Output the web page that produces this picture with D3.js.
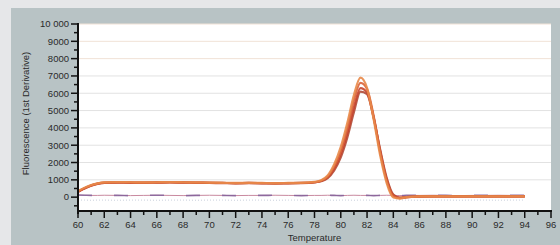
<!DOCTYPE html>
<html><head><meta charset="utf-8">
<script src="https://cdn.jsdelivr.net/npm/d3@7"></script>
<style>html,body{margin:0;padding:0;background:#e6e7e9;}svg{display:block;}</style>
</head><body>
<script>
const temps = [60,60.5,61,61.5,62,63,64,65,66,67,68,69,70,71,72,73,74,75,76,77,78,78.5,79,79.5,80,80.5,81,81.5,82,82.5,83,83.5,84,84.5,85,86,87,88,89,90,91,92,93,94];
const sampleA = [350,550,700,800,850,870,860,850,860,870,860,850,840,830,820,830,820,810,820,830,880,980,1250,1900,2900,4300,5900,6900,6300,4500,2400,800,-20,-80,0,40,50,50,40,50,50,40,50,50];
const sampleB = [330,520,680,790,840,860,850,840,850,860,850,840,830,820,810,820,810,800,810,820,860,950,1180,1750,2650,4000,5600,6600,6250,4700,2600,950,60,-60,-10,40,40,50,40,40,50,40,40,50];
const sampleC = [300,500,660,770,820,840,830,830,840,850,840,830,820,810,800,810,800,790,800,810,850,930,1150,1650,2500,3700,5200,6300,6050,4600,2650,1000,100,-40,0,30,40,40,40,40,40,40,40,40];
const sampleD = [320,510,670,780,830,850,840,840,850,860,850,840,830,820,810,820,810,800,810,820,860,920,1100,1550,2300,3450,4900,6100,5950,4600,2750,1100,150,-30,10,40,40,40,50,40,40,40,50,40];
const ntc = [120,110,100,100,110,100,90,100,110,100,90,100,110,100,90,100,100,110,100,90,100,100,110,100,90,100,110,100,100,90,100,110,100,90,100,100,110,100,90,100,100,110,100,100];
const noise = [-170,-170,-180,-170,-170,-180,-170,-170,-180,-170,-170,-180,-170,-170,-180,-170,-170,-180,-170,-170,-180,-170,-170,-180,-170,-170,-180,-170,-170,-180,-170,-170,-180,-170,-170,-180,-170,-170,-180,-170,-170,-180,-170,-170];
const yTicks = [0,1000,2000,3000,4000,5000,6000,7000,8000,9000,10000];
const yTickLabels = ["0","1000","2000","3000","4000","5000","6000","7000","8000","9000","10 000"];
const xTicks = [60,62,64,66,68,70,72,74,76,78,80,82,84,86,88,90,92,94,96];
const seriesColors = ["#b04a36","#c8442c","#d9633a","#e88a4a"];
const series = [sampleD, sampleC, sampleB, sampleA];

const W=560,H=245;
const svg=d3.select("body").append("svg").attr("width",W).attr("height",H);
const L=78,R=551,T=24,B=211;
svg.append("rect").attr("x",11).attr("y",8).attr("width",W-11).attr("height",H-8).attr("fill","#b8c3c5");
svg.append("rect").attr("x",L).attr("y",T).attr("width",R-L).attr("height",B-T).attr("fill","#ffffff");

const x=d3.scaleLinear().domain([60,96]).range([L,R]);
const y=d3.scaleLinear().domain([-800,10000]).range([B,T]);

svg.append("g").selectAll("line").data(yTicks.slice(1)).join("line")
  .attr("x1",L).attr("x2",R).attr("y1",d=>y(d)).attr("y2",d=>y(d))
  .attr("stroke",d=> d>=8000?"#f1e2d6":"#e2e2e2").attr("stroke-width",1);

const line=d3.line().x((d,i)=>x(temps[i])).y(d=>y(d)).curve(d3.curveMonotoneX);

svg.append("path").attr("d",line(noise)).attr("fill","none").attr("stroke","#c9d0dc").attr("stroke-width",1).attr("stroke-dasharray","1,2");
svg.append("path").attr("d",line(ntc)).attr("fill","none").attr("stroke","#c98aa0").attr("stroke-width",1);
svg.append("path").attr("d",line(ntc)).attr("fill","none").attr("stroke","#7e5c98").attr("stroke-width",1.6).attr("stroke-dasharray","14,22").attr("opacity",0.8);

series.forEach((s,i)=>{
  svg.append("path").attr("d",line(s)).attr("fill","none").attr("stroke",seriesColors[i]).attr("stroke-width",2.2).attr("stroke-linejoin","round").attr("opacity",0.9);
});

const font="Liberation Sans, Arial, sans-serif";
const yAxis=svg.append("g").attr("transform",`translate(${L},0)`);
yAxis.append("line").attr("x1",0).attr("x2",0).attr("y1",T-1).attr("y2",B+3).attr("stroke","#111").attr("stroke-width",2);
const yMinor=d3.range(-500,10001,500).filter(v=>v%1000!==0);
yAxis.selectAll(".ymi").data(yMinor).join("line").attr("x1",-4).attr("x2",0).attr("y1",d=>y(d)).attr("y2",d=>y(d)).attr("stroke","#111").attr("stroke-width",1.5);
yAxis.selectAll(".yma").data(yTicks).join("line").attr("x1",-7).attr("x2",0).attr("y1",d=>y(d)).attr("y2",d=>y(d)).attr("stroke","#111").attr("stroke-width",1.5);
yAxis.selectAll("text").data(yTicks).join("text").attr("x",-9).attr("y",d=>y(d)).attr("dy","0.35em")
  .attr("text-anchor","end").attr("font-family",font).attr("font-size",9.5).attr("fill","#2a2a2a")
  .text((d,i)=>yTickLabels[i]);

const xAxis=svg.append("g").attr("transform",`translate(0,${B})`);
xAxis.append("line").attr("x1",L-1).attr("x2",R+1).attr("y1",0).attr("y2",0).attr("stroke","#111").attr("stroke-width",2);
const xMinor=d3.range(61,96,2);
xAxis.selectAll(".xmi").data(xMinor).join("line").attr("x1",d=>x(d)).attr("x2",d=>x(d)).attr("y1",0).attr("y2",4).attr("stroke","#111").attr("stroke-width",1.5);
xAxis.selectAll(".xma").data(xTicks).join("line").attr("x1",d=>x(d)).attr("x2",d=>x(d)).attr("y1",0).attr("y2",7).attr("stroke","#111").attr("stroke-width",1.5);
xAxis.selectAll("text").data(xTicks).join("text").attr("x",d=>x(d)).attr("y",17)
  .attr("text-anchor","middle").attr("font-family",font).attr("font-size",9.5).attr("fill","#2a2a2a")
  .text(d=>d);

svg.append("text").attr("x",(L+R)/2).attr("y",241).attr("text-anchor","middle")
  .attr("font-family",font).attr("font-size",9.5).attr("fill","#2a2a2a").text("Temperature");
svg.append("text").attr("transform",`translate(29,${(T+B)/2-4}) rotate(-90)`).attr("text-anchor","middle")
  .attr("font-family",font).attr("font-size",9.5).attr("fill","#2a2a2a").text("Fluorescence (1st Derivative)");
</script>
</body></html>
